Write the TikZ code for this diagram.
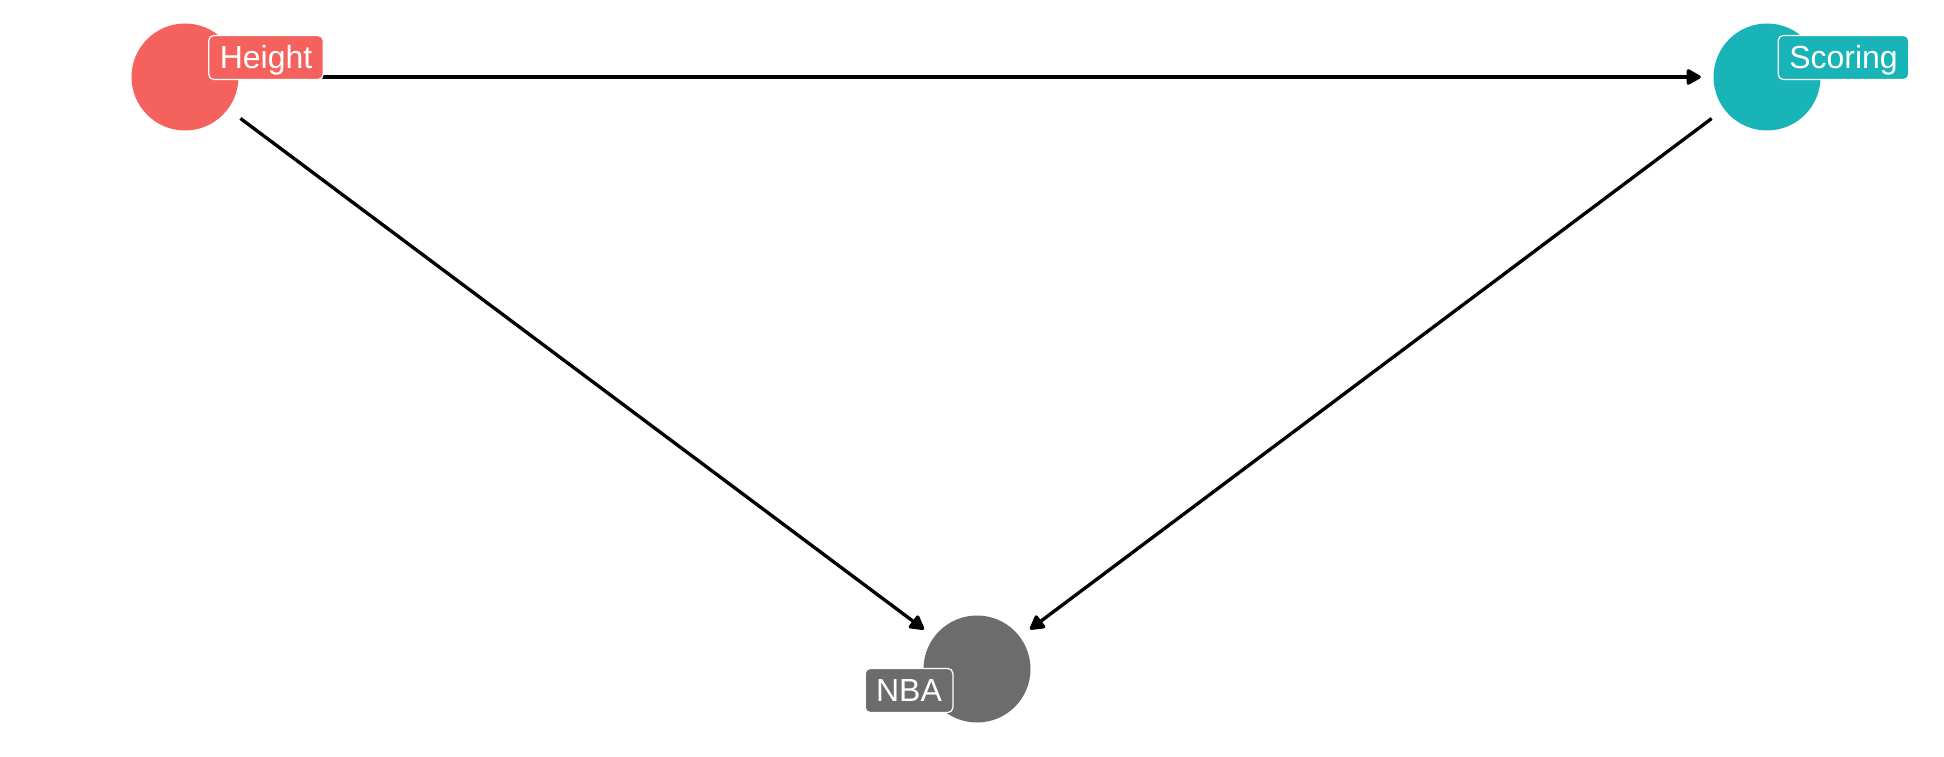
\documentclass[tikz,border=0pt]{standalone}
\usepackage{fontspec}
\setmainfont{Liberation Sans}
\usetikzlibrary{arrows.meta}

\definecolor{heightred}{RGB}{245,98,93}
\definecolor{scoringteal}{RGB}{25,180,184}
\definecolor{nbagrey}{RGB}{108,108,108}

\tikzset{
    var/.style={circle, fill=#1, minimum size=1.07cm, inner sep=0pt},
    tag/.style={fill=#1, draw=white, line width=0.35pt, rounded corners=0.05cm,
        text=white, font=\fontsize{9.1pt}{10pt}\selectfont,
        inner xsep=0.11cm, inner ysep=0pt, minimum height=0.44cm,
        text height=0.217cm, text depth=0pt},
    edge/.style={line width=0.95pt, -{Triangle[length=0.16cm, width=0.17cm, round]},
        shorten <=0.15cm, shorten >=0.12cm}
}

\begin{document}
\begin{tikzpicture}
    \useasboundingbox (0,0) rectangle (19.44,7.56);

    % variables
    \node[var=heightred]   (height)  at (1.85, 6.79) {};
    \node[var=scoringteal] (scoring) at (17.67, 6.79) {};
    \node[var=nbagrey]     (nba)     at (9.77, 0.87) {};

    % paths
    \draw[edge] (height) -- (scoring);
    \draw[edge] (height) -- (nba);
    \draw[edge] (scoring) -- (nba);

    % labels
    \node[tag=heightred]   (heightlabel)  at (2.66, 6.985) {Height};
    \node[tag=scoringteal] (scoringlabel) at (18.435, 6.985) {Scoring};
    \node[tag=nbagrey]     (nbalabel)     at (9.09, 0.655) {NBA};
\end{tikzpicture}
\end{document}
